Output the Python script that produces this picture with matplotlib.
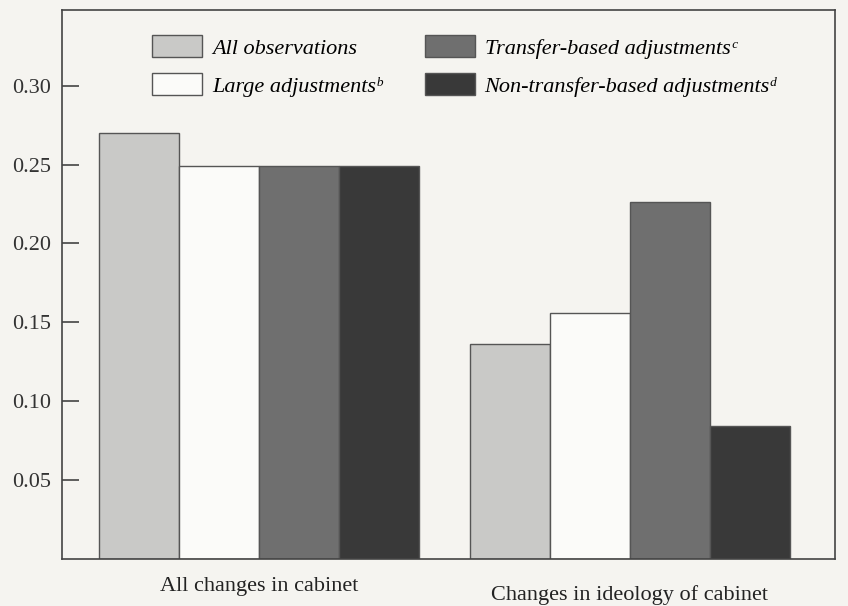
import matplotlib.pyplot as plt
import numpy as np

plt.rcParams['font.family'] = ['Liberation Serif', 'DejaVu Serif']

groups = ['All changes in cabinet', 'Changes in ideology of cabinet']
series = ['All observations', 'Large adjustments\u1d47',
          'Transfer-based adjustments\u1d9c',
          'Non-transfer-based adjustments\u1d48']
all_obs = [0.27, 0.136]
large = [0.249, 0.156]
transfer = [0.249, 0.226]
non_transfer = [0.249, 0.084]
colors = ['#c9c9c7', '#fbfbf9', '#6f6f6f', '#393939']
yticks = [0.05, 0.10, 0.15, 0.20, 0.25, 0.30]

bg = '#f5f4f0'
fig = plt.figure(figsize=(8.48, 6.06), dpi=100, facecolor=bg)
ax = fig.add_axes([0.0731, 0.0776, 0.9116, 0.906], facecolor=bg)

x = np.arange(len(groups))
w = 0.216
vals = [all_obs, large, transfer, non_transfer]
for i, v in enumerate(vals):
    ax.bar(x + (i - 1.5) * w, v, w, color=colors[i], edgecolor='#555555',
           linewidth=1.0, label=series[i])

ax.set_xlim(-0.531, 1.553)
ax.set_ylim(0, 0.348)
ax.set_yticks(yticks)
ax.set_yticklabels(['%.2f' % t for t in yticks], fontsize=16, color='#333333')
ax.tick_params(axis='y', direction='in', length=12, width=1.2, color='#444444', pad=8)
ax.set_xticks(x)
ax.set_xticklabels(groups, fontsize=16, color='#222222')
ax.tick_params(axis='x', length=0, pad=13)
ax.get_xticklabels()[1].set_y(-0.014)
for s in ax.spines.values():
    s.set_color('#444444')
    s.set_linewidth(1.2)

leg = ax.legend(ncol=2, loc='upper left', bbox_to_anchor=(0.091, 0.99), frameon=False,
                prop={'style': 'italic', 'size': 16}, handlelength=2.25, handleheight=1.15,
                columnspacing=1.9, labelspacing=0.65, handletextpad=0.45)

fig.savefig('out.png', dpi=100, facecolor=bg)
